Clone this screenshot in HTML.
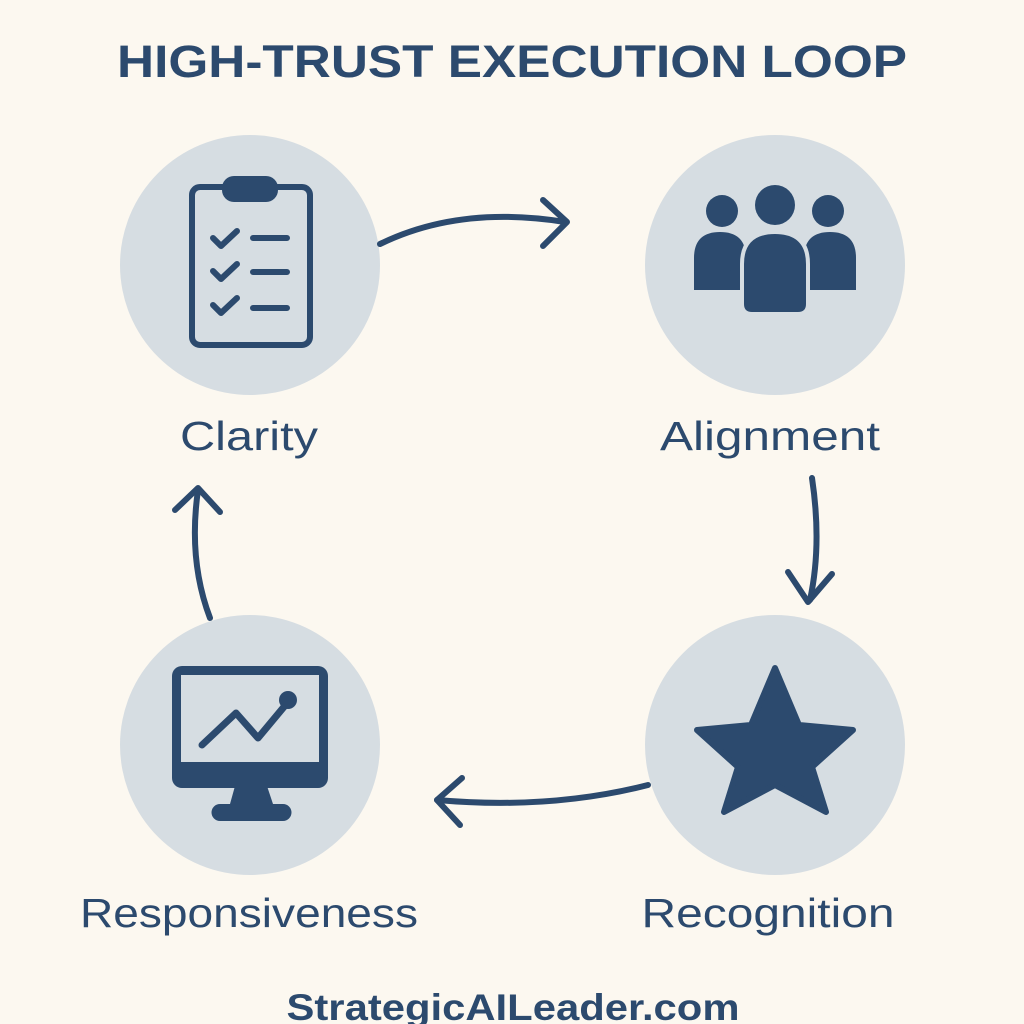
<!DOCTYPE html>
<html><head><style>
html,body{margin:0;padding:0;background:#fcf8f0;}
svg{display:block}
text{font-family:"Liberation Sans","DejaVu Sans",sans-serif;fill:#2c4a6e}
</style></head><body>
<svg width="1024" height="1024" viewBox="0 0 1024 1024">
<rect width="1024" height="1024" fill="#fcf8f0"/>
<text x="512" y="77" font-size="45" font-weight="bold" text-anchor="middle" textLength="790" lengthAdjust="spacingAndGlyphs">HIGH-TRUST EXECUTION LOOP</text>
<g fill="#d6dde2">
<circle cx="250" cy="265" r="130"/>
<circle cx="775" cy="265" r="130"/>
<circle cx="775" cy="745" r="130"/>
<circle cx="250" cy="745" r="130"/>
</g>
<g fill="none" stroke="#2c4a6e" stroke-linecap="round" stroke-linejoin="round">
<rect x="192" y="187" width="118" height="158" rx="8" stroke-width="6"/>
<g stroke-width="6">
<path d="M213 238l8 8 16-15M213 271l8 8 16-15M213 305l8 8 16-15"/>
<path d="M253 238h34M253 272h34M253 308h34"/>
</g>
<path d="M202 745L236 713L258 738L288 702" stroke-width="7"/>
<g stroke-width="6">
<path d="M380 244Q460 205 565 222"/>
<path d="M543 200L567 222L543 246"/>
<path d="M812 478Q822 545 810 600"/>
<path d="M788 572L808 602L832 574"/>
<path d="M648 785Q550 810 437 800"/>
<path d="M462 778L437 800L460 825"/>
<path d="M210 618Q188 560 198 490"/>
<path d="M175 510L198 488L220 512"/>
</g>
</g>
<g fill="#2c4a6e">
<rect x="222" y="176" width="56" height="26" rx="12"/>
<circle cx="288" cy="700" r="9"/>
<path d="M182 666h136a10 10 0 0 1 10 10v102a10 10 0 0 1-10 10H182a10 10 0 0 1-10-10V676a10 10 0 0 1 10-10zM181 675v87h138v-87z" fill-rule="evenodd"/>
<path d="M235 786h32l6 18h10a8 8 0 0 1 0 17h-63a8 8 0 0 1 0-17h10z"/>
<circle cx="722" cy="211" r="16"/>
<circle cx="828" cy="211" r="16"/>
<circle cx="775" cy="205" r="20"/>
<path d="M694 290v-32q0-26 26-26q26 0 26 26v32z"/>
<path d="M804 290v-32q0-26 26-26q26 0 26 26v32z"/>
<rect x="694" y="270" width="40" height="20" rx="6"/>
<rect x="816" y="270" width="40" height="20" rx="6"/>
<path d="M742 304v-40q0-32 33-32q33 0 33 32v40q0 10-10 10h-46q-10 0-10-10z" stroke="#d6dde2" stroke-width="4"/>
<path d="M775 668L799 725L853 730L812 767L826 812L775 785L724 812L738 767L697 730L751 725Z" stroke="#2c4a6e" stroke-width="6" stroke-linejoin="round"/>
</g>
<text x="249" y="450" font-size="41" text-anchor="middle" textLength="138" lengthAdjust="spacingAndGlyphs">Clarity</text>
<text x="770" y="450" font-size="41" text-anchor="middle" textLength="220" lengthAdjust="spacingAndGlyphs">Alignment</text>
<text x="249" y="927" font-size="41" text-anchor="middle" textLength="338" lengthAdjust="spacingAndGlyphs">Responsiveness</text>
<text x="768" y="927" font-size="41" text-anchor="middle" textLength="253" lengthAdjust="spacingAndGlyphs">Recognition</text>
<text x="513" y="1020" font-size="37" font-weight="bold" text-anchor="middle" textLength="453" lengthAdjust="spacingAndGlyphs">StrategicAILeader.com</text>
</svg>
</body></html>
